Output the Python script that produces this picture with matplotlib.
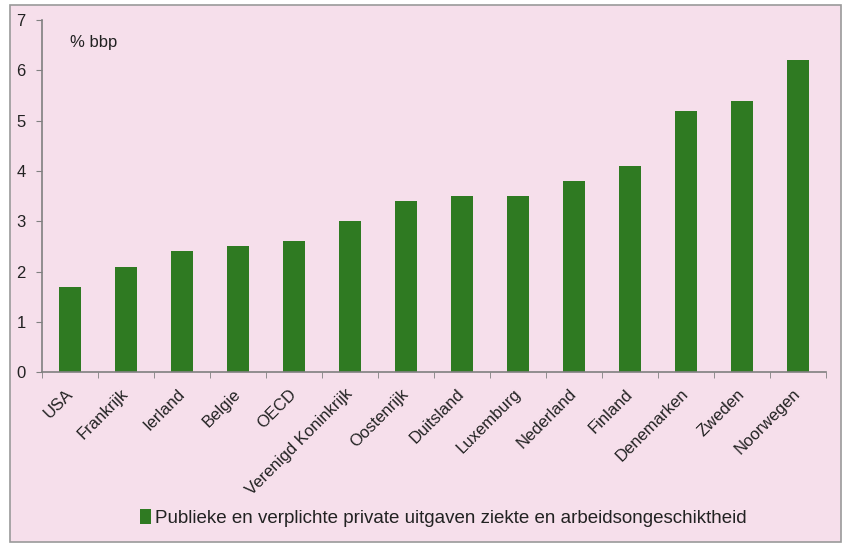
import numpy as np
import matplotlib.pyplot as plt
from matplotlib.patches import Rectangle

plt.rcParams['font.family'] = ['Liberation Sans', 'DejaVu Sans']

countries = ['USA', 'Frankrijk', 'Ierland', 'Belgie', 'OECD', 'Verenigd Koninkrijk',
             'Oostenrijk', 'Duitsland', 'Luxemburg', 'Nederland', 'Finland',
             'Denemarken', 'Zweden', 'Noorwegen']
values = [1.7, 2.1, 2.4, 2.5, 2.6, 3.0, 3.4, 3.5, 3.5, 3.8, 4.1, 5.2, 5.4, 6.2]
legend_label = 'Publieke en verplichte private uitgaven ziekte en arbeidsongeschiktheid'

pink = '#f6dfeb'
green = '#2f7a22'
txt = '#222222'

fig = plt.figure(figsize=(8.44, 5.44), dpi=100, facecolor='white')
# pink panel with grey frame
fig.patches.append(Rectangle((10 / 844, 2 / 544), 831 / 844, 537 / 544,
                             transform=fig.transFigure, facecolor=pink,
                             edgecolor='#9a9a9a', linewidth=1.2, zorder=-10))

ax = fig.add_axes([0.05, 0.316, 0.929, 0.647])
ax.set_facecolor('none')

x = np.arange(len(countries))
ax.bar(x, values, width=0.4, color=green, label=legend_label, zorder=2)

ax.set_xlim(-0.5, len(countries) - 0.5)
ax.set_ylim(0, 7)
ax.set_yticks(range(0, 8))
ax.tick_params(axis='y', labelsize=12, length=4, color='#808080', pad=8, labelcolor=txt)

ax.set_xticks(x)
ax.set_xticklabels(countries, rotation=45, ha='right', va='center',
                   rotation_mode='anchor', fontsize=12, color=txt)
ax.tick_params(axis='x', which='major', length=0, pad=14)
ax.set_xticks(np.arange(-0.5, len(countries), 1), minor=True)
ax.tick_params(axis='x', which='minor', length=4, color='#808080')

for side in ['top', 'right']:
    ax.spines[side].set_visible(False)
for side in ['left', 'bottom']:
    ax.spines[side].set_color('#808080')
    ax.spines[side].set_linewidth(1.2)

ax.text(0, 6.55, '% bbp', fontsize=12, ha='left', va='center', color=txt)

fig.legend(loc='lower center', bbox_to_anchor=(0.525, 0.0), frameon=False,
           fontsize=13.5, handlelength=0.6, handleheight=0.8, handletextpad=0.2,
           labelcolor=txt)

plt.savefig('out.png', dpi=100)
